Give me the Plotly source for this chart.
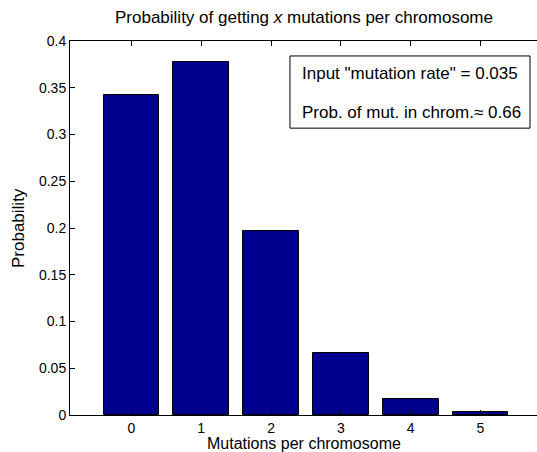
import plotly.graph_objects as go

categories = [0, 1, 2, 3, 4, 5]
probabilities = [0.3426, 0.3772, 0.1964, 0.0661, 0.0166, 0.0030]
y_ticks = [0, 0.05, 0.1, 0.15, 0.2, 0.25, 0.3, 0.35, 0.4]
y_tick_labels = ["0", "0.05", "0.1", "0.15", "0.2", "0.25", "0.3", "0.35", "0.4"]
title_text = "Probability of getting <i>x</i> mutations per chromosome"
x_label = "Mutations per chromosome"
y_label = "Probability"
info_lines = ['Input "mutation rate" = 0.035', "Prob. of mut. in chrom.\u2248 0.66"]

FONT = "Liberation Sans, Arial, Helvetica, sans-serif"

fig = go.Figure()
fig.add_trace(go.Bar(
    x=categories, y=probabilities, width=0.8,
    marker=dict(color="#00008F", line=dict(color="black", width=1)),
))

fig.update_layout(
    width=537, height=452,
    margin=dict(l=70, r=0, t=41, b=37),
    paper_bgcolor="white", plot_bgcolor="white",
    showlegend=False,
    font=dict(family=FONT, size=14, color="black"),
    bargap=0,
)
fig.update_xaxes(
    range=[-0.88, 5.81], tickvals=categories, ticktext=[str(c) for c in categories],
    ticks="inside", ticklen=5, tickcolor="black", showline=True, linecolor="black",
    linewidth=1, mirror="ticks", showgrid=False, zeroline=False,
    tickfont=dict(family=FONT, size=14), ticklabelstandoff=0,
)
fig.update_yaxes(
    range=[0, 0.4], tickvals=y_ticks, ticktext=y_tick_labels,
    ticks="inside", ticklen=5, tickcolor="black", showline=True, linecolor="black",
    linewidth=1, mirror=False, showgrid=False, zeroline=False,
    tickfont=dict(family=FONT, size=14), ticklabelstandoff=0,
)

# Title
fig.add_annotation(text=title_text, xref="paper", yref="paper", x=0.5, y=1,
                   yanchor="bottom", yshift=12, showarrow=False,
                   font=dict(family=FONT, size=17))
# Axis labels
fig.add_annotation(text=x_label, xref="paper", yref="paper", x=0.5, y=0,
                   yanchor="top", yshift=-18, showarrow=False,
                   font=dict(family=FONT, size=16))
fig.add_annotation(text=y_label, xref="paper", yref="paper", x=0, y=0.5,
                   xanchor="center", xshift=-52, textangle=-90, showarrow=False,
                   font=dict(family=FONT, size=17))

# Info box
fig.add_shape(type="rect", xref="paper", yref="paper",
              x0=0.471, x1=0.985, y0=0.767, y1=0.960,
              line=dict(color="black", width=1), fillcolor="white")
fig.add_annotation(text=info_lines[0], xref="paper", yref="paper", x=0.4925, y=0.914,
                   xanchor="left", yanchor="middle", showarrow=False,
                   font=dict(family=FONT, size=17))
fig.add_annotation(text=info_lines[1], xref="paper", yref="paper", x=0.4925, y=0.81,
                   xanchor="left", yanchor="middle", showarrow=False,
                   font=dict(family=FONT, size=17))

fig.write_html("out.html")
